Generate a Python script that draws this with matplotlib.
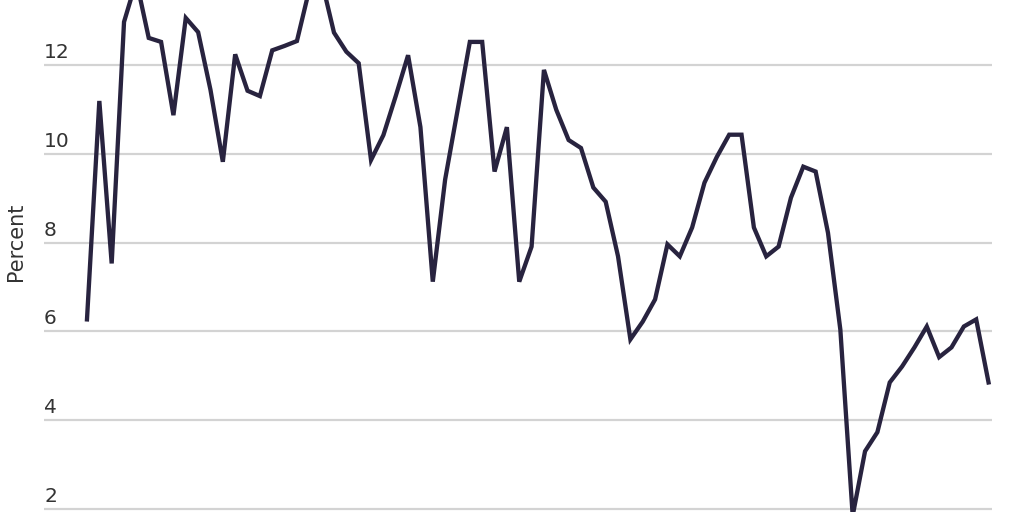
import matplotlib
matplotlib.use("Agg")
import matplotlib.pyplot as plt
import matplotlib.transforms as mtransforms

# quarterly values (peaks at top / trough at bottom are clipped)
values = [6.27, 11.19, 7.53, 12.97, 13.9, 12.61, 12.52, 10.87, 13.06, 12.74,
          11.44, 9.82, 12.24, 11.42, 11.3, 12.33, 12.43, 12.54, 13.7, 13.9,
          12.73, 12.3, 12.04, 9.86, 10.42, 11.3, 12.22, 10.6, 7.12, 9.42,
          10.97, 12.52, 12.52, 9.6, 10.6, 7.12, 7.91, 11.89, 10.99, 10.31,
          10.13, 9.24, 8.92, 7.69, 5.82, 6.22, 6.72, 7.96, 7.69, 8.34,
          9.35, 9.93, 10.43, 10.43, 8.34, 7.69, 7.91, 9.01, 9.71, 9.6,
          8.22, 6.04, 1.85, 3.3, 3.73, 4.85, 5.21, 5.64, 6.11, 5.42,
          5.64, 6.11, 6.27, 4.85]
yticks = [2, 4, 6, 8, 10, 12]
ylabel = "Percent"

line_color = "#28233f"
grid_color = "#d3d3d3"
text_color = "#333333"
font = ["DejaVu Sans"]

fig = plt.figure(figsize=(10.24, 5.12), dpi=100)
ax = fig.add_axes([44 / 1024, 0, 948 / 1024, 1])

x = list(range(len(values)))
ax.plot(x, values, color=line_color, lw=3.1, solid_joinstyle="miter", zorder=3)

ax.set_xlim(-3.48, 73.28)
ax.set_ylim(1.932, 13.464)

for t in yticks:
    ax.axhline(t, color=grid_color, lw=1.6, zorder=1)

trans = mtransforms.blended_transform_factory(ax.transAxes, ax.transData)
offset = mtransforms.offset_copy(trans, fig=fig, x=0, y=7, units="dots")
for t in yticks:
    ax.text(0.0, t, str(t), transform=offset, ha="left", va="baseline",
            fontsize=14.5, color=text_color, family=font)

fig.text(16 / 1024, 1 - 242 / 512, ylabel, rotation=90, ha="center", va="center",
         fontsize=15, color=text_color, family=font)

for s in ax.spines.values():
    s.set_visible(False)
ax.set_xticks([])
ax.set_yticks([])
ax.patch.set_alpha(0)

fig.savefig("out.png", dpi=100)
